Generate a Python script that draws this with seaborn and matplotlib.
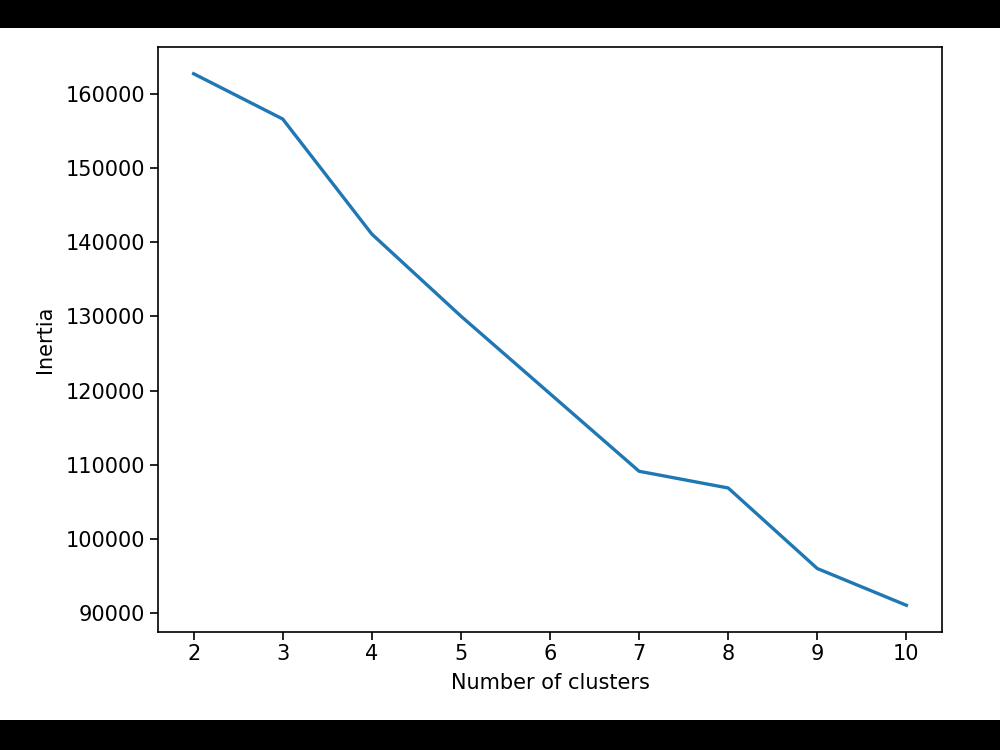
import pandas as pd
import matplotlib.pyplot as plt
import seaborn as sns
from matplotlib.patches import Rectangle

clusters = [2, 3, 4, 5, 6, 7, 8, 9, 10]
inertia = [162700, 156600, 141100, 130050, 119600, 109150, 106900, 96050, 91100]

df = pd.DataFrame({'clusters': clusters, 'inertia': inertia})

plt.rcParams['font.family'] = ['DejaVu Sans']
plt.rcParams['font.size'] = 15

fig = plt.figure(figsize=(10, 7.5), dpi=100, facecolor='black')
# white picture area between the black bands
fig.patches.append(Rectangle((0, 30 / 750), 1, 692 / 750, transform=fig.transFigure,
                             facecolor='white', edgecolor='none', zorder=-10))

ax = fig.add_axes([0.158, 1 - 632 / 750, 0.784, (632 - 47) / 750])
ax.set_zorder(5)
sns.lineplot(data=df, x='clusters', y='inertia', ax=ax, color='#1f77b4', linewidth=2.4)

ax.set_xticks(clusters)
ax.set_yticks([90000, 100000, 110000, 120000, 130000, 140000, 150000, 160000])
ax.set_xlim(1.6, 10.4)
ax.set_ylim(87500, 166300)
ax.set_xlabel("Number of clusters", fontsize=15, labelpad=6)
ax.set_ylabel("Inertia", fontsize=15, labelpad=8)
ax.tick_params(labelsize=15, length=5.5, width=1.2)
for s in ax.spines.values():
    s.set_linewidth(1.2)

fig.savefig('out.png', dpi=100, facecolor='black')
plt.close()
